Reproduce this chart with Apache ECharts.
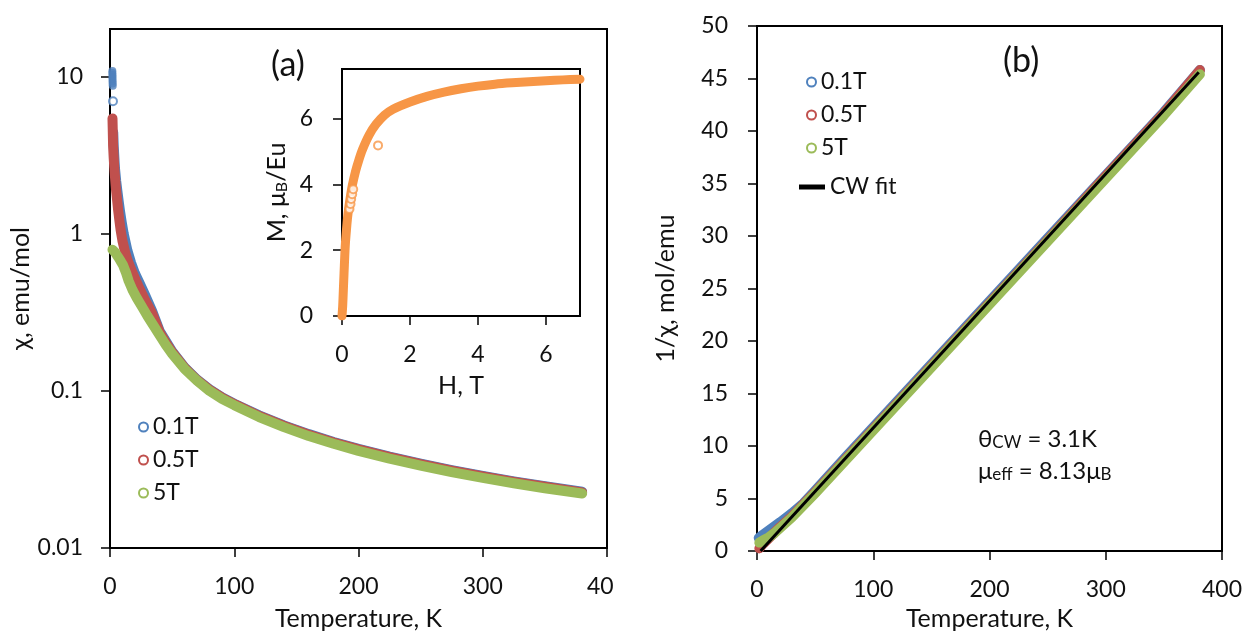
<!DOCTYPE html>
<html><head><meta charset="utf-8">
<script src="https://cdn.jsdelivr.net/npm/echarts@6/dist/echarts.min.js"></script>
<style>html,body{margin:0;padding:0;background:#fff}#c{width:1248px;height:636px}</style>
</head><body><div id="c"></div>
<script>
// ---------- Panel (a): chi vs T (log scale) ----------
const aTempBlueBlob = [1.9, 1.9, 2.0, 2.0, 2.0, 2.1, 2.1, 2.2];
const aChiBlueBlob  = [10.8, 10.5, 10.2, 9.9, 9.6, 9.3, 9.0, 8.7];
const aTempBlueLone = [2.4];
const aChiBlueLone  = [6.95];
const aTempBlue = [2.6, 3, 4, 5, 6, 7, 8, 9.5, 11, 14, 17, 20, 24, 28, 34, 40, 50, 60, 70, 80, 90, 100, 120, 140, 160, 180, 200, 225, 250, 275, 300, 325, 350, 380];
const aChiBlue  = [4.4, 3.6, 2.6, 2.15, 1.85, 1.6, 1.4, 1.17, 1.0, 0.78, 0.65, 0.56, 0.48, 0.41, 0.32, 0.24, 0.178, 0.141, 0.118, 0.1025, 0.091, 0.0828, 0.0698, 0.0602, 0.053, 0.0472, 0.0427, 0.0381, 0.0344, 0.0313, 0.0287, 0.0265, 0.0247, 0.0228];
const aTempRed = [2, 2.2, 2.5, 3, 3.5, 4, 4.5, 5, 5.6, 6.5, 7.5, 8.5, 10, 12, 14, 17, 20, 23, 28, 34, 40, 45, 50, 60, 70, 80, 90, 100, 120, 140, 160, 180, 200, 225, 250, 275, 300, 325, 350, 380];
const aChiRed  = [5.4, 4.6, 3.6, 3.0, 2.6, 2.3, 2.05, 1.85, 1.67, 1.42, 1.22, 1.06, 0.9, 0.77, 0.68, 0.59, 0.52, 0.46, 0.38, 0.31, 0.235, 0.202, 0.176, 0.14, 0.117, 0.1015, 0.0905, 0.0823, 0.0692, 0.0598, 0.0526, 0.0469, 0.0424, 0.0378, 0.0341, 0.0311, 0.0285, 0.0263, 0.0245, 0.0226];
const aTempGreen = [2, 3, 4, 5, 6.5, 8, 10.5, 13, 15, 18, 21.5, 26, 30, 35, 40, 45, 50, 60, 70, 80, 90, 100, 120, 140, 160, 180, 200, 225, 250, 275, 300, 325, 350, 380];
const aChiGreen  = [0.79, 0.775, 0.76, 0.74, 0.71, 0.68, 0.63, 0.56, 0.5, 0.44, 0.39, 0.34, 0.3, 0.26, 0.225, 0.195, 0.172, 0.138, 0.116, 0.1, 0.089, 0.081, 0.068, 0.0587, 0.0515, 0.046, 0.0415, 0.037, 0.0334, 0.0304, 0.0279, 0.0258, 0.024, 0.0222];
const aXTicks = [0, 100, 200, 300, 400];
const aYTicks = [0.01, 0.1, 1, 10];

// ---------- Inset: M vs H ----------
const bField  = [0, 0.02, 0.04, 0.06, 0.08, 0.1, 0.13, 0.16, 0.2, 0.25, 0.3, 0.4, 0.5, 0.6, 0.8, 1.0, 1.25, 1.5, 2, 2.5, 3, 3.5, 4, 4.5, 5, 5.5, 6, 6.5, 7];
const bMoment = [0, 0.3, 0.8, 1.3, 1.8, 2.2, 2.6, 2.95, 3.3, 3.65, 3.95, 4.4, 4.75, 5.05, 5.5, 5.82, 6.1, 6.28, 6.5, 6.67, 6.8, 6.9, 6.98, 7.04, 7.08, 7.11, 7.14, 7.17, 7.19];
const bFieldSparse  = [0.22, 0.25, 0.27, 0.3, 0.33, 1.06];
const bMomentSparse = [3.25, 3.4, 3.55, 3.7, 3.85, 5.18];
const bXTicks = [0, 2, 4, 6];
const bYTicks = [0, 2, 4, 6];

// ---------- Panel (b): 1/chi vs T ----------
const cTempBlue = [1.5, 2, 5, 10, 15, 20, 30, 40, 50, 75, 100, 150, 200, 250, 300, 350, 381];
const cInvBlue  = [1.25, 1.3, 1.55, 1.95, 2.35, 2.75, 3.6, 4.55, 5.75, 8.8, 11.8, 17.8, 23.8, 29.8, 35.8, 41.8, 45.8];
const cTempRed = [2, 3, 5, 10, 20, 30, 50, 100, 150, 200, 250, 300, 350, 381];
const cInvRed  = [0.25, 0.4, 0.65, 1.2, 2.3, 3.3, 5.6, 11.6, 17.6, 23.6, 29.6, 35.7, 41.7, 45.8];
const cTempGreen = [2, 5, 10, 15, 20, 30, 50, 100, 150, 200, 250, 300, 350, 381];
const cInvGreen  = [0.8, 1.0, 1.3, 1.7, 2.2, 3.2, 5.5, 11.5, 17.5, 23.5, 29.5, 35.5, 41.5, 45.4];
const cFitTemp = [3.1, 380];
const cFitInv  = [0, 45.6];

const names = ['0.1T', '0.5T', '5T'];
const COL = { blue: '#4F81BD', red: '#C0504D', green: '#9BBB59', orange: '#F79646' };
const FONT = 'Lato';
const zip = (xs, ys) => xs.map((x, i) => [x, ys[i]]);

const axBase = {
  axisLine: { show: true, onZero: false, lineStyle: { color: '#000', width: 2 } },
  axisTick: { show: true, inside: false, length: 9, lineStyle: { color: '#000', width: 1.5 } },
  splitLine: { show: false },
  axisLabel: { color: '#111', fontFamily: FONT, fontSize: 23 },
  nameTextStyle: { color: '#111', fontFamily: FONT, fontSize: 25 },
  nameLocation: 'middle'
};
function ax(o) { return Object.assign({}, axBase, o, {
  axisLabel: Object.assign({}, axBase.axisLabel, o.axisLabel || {}),
  axisTick: Object.assign({}, axBase.axisTick, o.axisTick || {}),
  nameTextStyle: Object.assign({}, axBase.nameTextStyle, o.nameTextStyle || {})
}); }

const band = (w) => ({ width: w, cap: 'round', join: 'round' });
const legendItem = (n, c) => ({ name: n, icon: 'emptyCircle', itemStyle: { color: c, borderColor: c, borderWidth: 2 } });
const legendText = { fontFamily: FONT, fontSize: 23, color: '#111', lineHeight: 24 };

const option = {
  animation: false,
  backgroundColor: '#fff',
  grid: [
    { left: 110, right: 641, top: 29, bottom: 83, show: true, borderColor: '#000', borderWidth: 2, backgroundColor: 'transparent' },
    { left: 342, right: 668, top: 69, bottom: 320, show: true, borderColor: '#000', borderWidth: 2, backgroundColor: '#fff', z: 5 },
    { left: 757, right: 26, top: 26, bottom: 79, show: true, borderColor: '#000', borderWidth: 2, backgroundColor: 'transparent' }
  ],
  xAxis: [
    ax({ gridIndex: 0, type: 'value', min: 0, max: 400, interval: 100, name: 'Temperature, K', nameGap: 58,
         axisLabel: { margin: 27, customValues: aXTicks }, axisTick: { customValues: aXTicks } }),
    ax({ gridIndex: 1, type: 'value', min: 0, max: 7, name: 'H, T', nameGap: 57, z: 6,
         axisLabel: { margin: 27, customValues: bXTicks }, axisTick: { customValues: bXTicks } }),
    ax({ gridIndex: 2, type: 'value', min: 0, max: 400, interval: 100, name: 'Temperature, K', nameGap: 55,
         axisLabel: { margin: 27 } })
  ],
  yAxis: [
    ax({ gridIndex: 0, type: 'log', logBase: 10, min: 0.01, max: 20, name: 'χ, emu/mol', nameGap: 75,
         axisLabel: { margin: 27, customValues: aYTicks, formatter: v => String(+v.toPrecision(3)) },
         axisTick: { customValues: aYTicks } }),
    ax({ gridIndex: 1, type: 'value', min: 0, max: 7.5, name: 'M, μ{s|B}/Eu', nameGap: 52, z: 6,
         nameTextStyle: { rich: { s: { fontFamily: FONT, fontSize: 16, color: '#111', padding: [10, 0, 0, 0] } } },
         axisLabel: { margin: 29, customValues: bYTicks }, axisTick: { customValues: bYTicks } }),
    ax({ gridIndex: 2, type: 'value', min: 0, max: 50, interval: 5, name: '1/χ, mol/emu', nameGap: 79,
         axisLabel: { margin: 29 } })
  ],
  legend: [
    { left: 138, top: 415, orient: 'vertical', padding: 0, itemWidth: 9, itemHeight: 9, itemGap: 9, itemTextGap: 18,
      textStyle: legendText, selectedMode: false,
      data: [legendItem(names[0], COL.blue), legendItem(names[1], COL.red), legendItem(names[2], COL.green)] },
    { left: 806, top: 70, orient: 'vertical', padding: 0, itemWidth: 9, itemHeight: 9, itemGap: 9, itemTextGap: 20,
      textStyle: legendText, selectedMode: false,
      data: [legendItem(names[0], COL.blue), legendItem(names[1], COL.red), legendItem(names[2], COL.green)] },
    { left: 799, top: 175, orient: 'vertical', padding: 0, itemWidth: 26, itemHeight: 5, itemTextGap: 14,
      textStyle: legendText, selectedMode: false,
      data: [{ name: 'CW fit', icon: 'rect', itemStyle: { color: '#000' } }] }
  ],
  series: [
    // panel (a)
    { name: names[0], type: 'line', xAxisIndex: 0, yAxisIndex: 0, data: zip(aTempBlue, aChiBlue),
      showSymbol: false, color: COL.blue, lineStyle: band(10) },
    { name: names[0], type: 'scatter', xAxisIndex: 0, yAxisIndex: 0, data: zip(aTempBlueBlob, aChiBlueBlob),
      symbol: 'circle', symbolSize: 8, color: COL.blue },
    { name: names[0], type: 'scatter', xAxisIndex: 0, yAxisIndex: 0, data: zip(aTempBlueLone, aChiBlueLone),
      symbol: 'emptyCircle', symbolSize: 8, color: COL.blue, itemStyle: { borderWidth: 2 } },
    { name: names[1], type: 'line', xAxisIndex: 0, yAxisIndex: 0, data: zip(aTempRed, aChiRed),
      showSymbol: false, color: COL.red, lineStyle: band(10) },
    { name: names[2], type: 'line', xAxisIndex: 0, yAxisIndex: 0, data: zip(aTempGreen, aChiGreen),
      showSymbol: false, color: COL.green, lineStyle: band(10) },
    // inset
    { name: 'M(H)', type: 'line', xAxisIndex: 1, yAxisIndex: 1, data: zip(bField, bMoment), z: 7,
      showSymbol: false, smooth: 0.3, color: COL.orange, lineStyle: band(9) },
    { name: 'M(H) pts', type: 'scatter', xAxisIndex: 1, yAxisIndex: 1, data: zip(bFieldSparse, bMomentSparse), z: 7,
      symbol: 'emptyCircle', symbolSize: 8, color: COL.orange, itemStyle: { borderWidth: 1.5 } },
    // panel (b)
    { name: names[0], type: 'line', xAxisIndex: 2, yAxisIndex: 2, data: zip(cTempBlue, cInvBlue),
      showSymbol: false, color: COL.blue, lineStyle: band(10) },
    { name: names[1], type: 'line', xAxisIndex: 2, yAxisIndex: 2, data: zip(cTempRed, cInvRed),
      showSymbol: false, color: COL.red, lineStyle: band(10) },
    { name: names[2], type: 'line', xAxisIndex: 2, yAxisIndex: 2, data: zip(cTempGreen, cInvGreen),
      showSymbol: false, color: COL.green, lineStyle: band(10) },
    { name: 'CW fit', type: 'line', xAxisIndex: 2, yAxisIndex: 2, data: zip(cFitTemp, cFitInv),
      showSymbol: false, color: '#000', lineStyle: { width: 3 } }
  ],
  graphic: [
    { type: 'rect', left: 613, top: 570, shape: { width: 40, height: 66 }, style: { fill: '#fff' }, z: 100 },
    { type: 'text', left: 271, top: 48, z: 100, style: { text: '(a)', fontFamily: FONT, fontSize: 34, fill: '#111' } },
    { type: 'text', left: 1003, top: 44, z: 100, style: { text: '(b)', fontFamily: FONT, fontSize: 34, fill: '#111' } },
    { type: 'text', left: 978, top: 427, z: 100, style: { text: 'θ{s|CW} = 3.1K', fontFamily: FONT, fontSize: 24, fill: '#111',
        rich: { s: { fontFamily: FONT, fontSize: 17, fill: '#111', padding: [8, 0, 0, 0] } } } },
    { type: 'text', left: 978, top: 459, z: 100, style: { text: 'μ{s|eff} = 8.13μ{s|B}', fontFamily: FONT, fontSize: 24, fill: '#111',
        rich: { s: { fontFamily: FONT, fontSize: 17, fill: '#111', padding: [8, 0, 0, 0] } } } }
  ]
};

const chart = echarts.init(document.getElementById('c'), null, { renderer: 'canvas' });
chart.setOption(option);
</script>
</body></html>
